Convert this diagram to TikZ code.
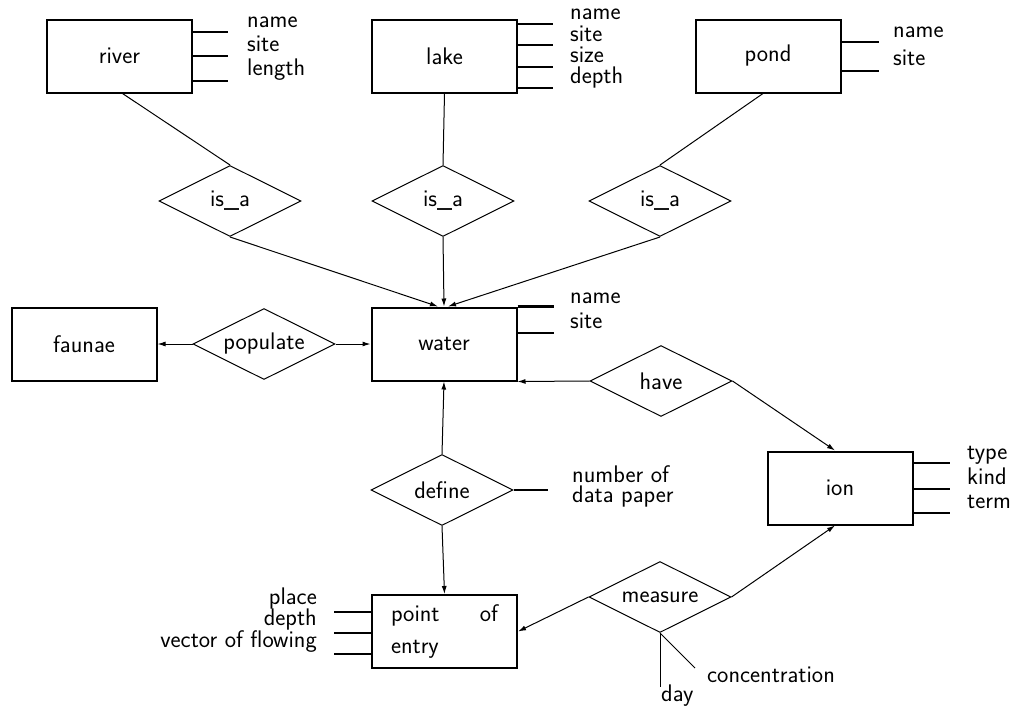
\documentclass[tikz,border=0pt]{standalone}
\usetikzlibrary{shapes.geometric,arrows.meta}
\begin{document}
\begin{tikzpicture}[x=1pt,y=-1pt,
  every node/.style={font=\sffamily\fontsize{24}{28}\selectfont},
  ent/.style={draw, line width=2pt, minimum width=145pt, minimum height=73pt, inner sep=0pt},
  rel/.style={draw, diamond, aspect=2, line width=1pt, minimum width=142pt, minimum height=71pt, inner sep=0pt},
  conn/.style={line width=1pt},
  arr/.style={conn, -{Latex[length=8pt,width=5pt]}},
  attr/.style={line width=2.5pt},
  attrthin/.style={line width=1.2pt},
  lbl/.style={inner sep=0pt, text height=0.62em, text depth=0.17em, anchor=west},
  lblr/.style={lbl, anchor=east}
]
\useasboundingbox (0,0) rectangle (1018,710);

% entities
\node[ent] (river) at (119.5,56) {river};
\node[ent] (lake) at (444.5,56) {lake};
\node[ent] (pond) at (768,56) {pond};
\node[ent] (water) at (444,344) {water};
\node[ent] (faunae) at (84,344) {faunae};
\node[ent] (ion) at (840,488) {ion};
\node[ent, text width=107pt, align=left, font=\sffamily\fontsize{24}{32}\selectfont] (poe) at (444.5,631.5) {point\hfill of\\entry};

% relationships
\node[rel] (isaL) at (230,201) {is\_a};
\node[rel] (isaM) at (443,201) {is\_a};
\node[rel] (isaR) at (660,201) {is\_a};
\node[rel] (populate) at (264,344) {populate};
\node[rel] (have) at (661,381) {have};
\node[rel] (define) at (442,490) {define};
\node[rel] (measure) at (660,597) {measure};

% connectors
\draw[conn] ([xshift=3pt]river.south) -- (isaL.north);
\draw[conn] (lake.south) -- (isaM.north);
\draw[conn] ([xshift=-5pt]pond.south) -- (isaR.north);
\draw[arr] (isaL.south) -- ([xshift=-6pt]water.north);
\draw[arr] (isaM.south) -- (water.north);
\draw[arr] (isaR.south) -- ([xshift=4pt]water.north);
\draw[arr] (populate.west) -- (faunae.east);
\draw[arr] (populate.east) -- (water.west);
\draw[arr] (have.west) -- (water.south east);
\draw[arr] (have.east) -- ([xshift=-5pt]ion.north);
\draw[arr] (define.north) -- (water.south);
\draw[arr] (define.south) -- (poe.north);
\draw[arr] (measure.west) -- (poe.east);
\draw[arr] (measure.east) -- ([xshift=-5pt]ion.south);

% attributes of river
\draw[attr] (river.east |- 0,32) -- ++(35,0);
\draw[attr] (river.east |- 0,56) -- ++(35,0);
\draw[attr] (river.east |- 0,81) -- ++(35,0);
\node[lbl] (rname) at (247,25) {name};
\node[lbl] (rsite) at (247,49) {site};
\node[lbl] (rlength) at (247,73) {length};

% attributes of lake
\draw[attr] (lake.east |- 0,24) -- ++(35,0);
\draw[attrthin] (lake.east |- 0,45) -- ++(35,0);
\draw[attr] (lake.east |- 0,67) -- ++(35,0);
\draw[attr] (lake.east |- 0,88) -- ++(35,0);
\node[lbl] (lname) at (570,17) {name};
\node[lbl] (lsite) at (570,39) {site};
\node[lbl] (lsize) at (570,60) {size};
\node[lbl] (ldepth) at (570,81) {depth};

% attributes of pond
\draw[attr] (pond.east |- 0,42) -- ++(37,0);
\draw[attr] (pond.east |- 0,71) -- ++(37,0);
\node[lbl] (pname) at (893,35) {name};
\node[lbl] (psite) at (893,63) {site};

% attributes of water
\draw[attr] (water.north east) -- ++(36,0);
\draw[attr] (water.east |- 0,333) -- ++(36,0);
\node[lbl] (wname) at (570,301) {name};
\node[lbl] (wsite) at (570,326) {site};

% attributes of ion
\draw[attr] (ion.east |- 0,463) -- ++(36,0);
\draw[attr] (ion.east |- 0,489) -- ++(36,0);
\draw[attr] (ion.east |- 0,513) -- ++(36,0);
\node[lbl] (itype) at (967,457) {type};
\node[lbl] (ikind) at (967,482) {kind};
\node[lbl] (iterm) at (967,506) {term};

% attribute of define
\coordinate (defend) at (548,490);
\draw[attr] (define.east) -- (defend);
\node[lbl] (dnum) at (572,480) {number of};
\node[lbl] (ddata) at (572,500) {data paper};

% attributes of point of entry
\draw[attrthin] (poe.west |- 0,612) -- ++(-37,0);
\draw[attr] (poe.west |- 0,633) -- ++(-37,0);
\draw[attr] (poe.west |- 0,654) -- ++(-37,0);
\node[lblr] (eplace) at (317,602) {place};
\node[lblr] (edepth) at (317,623) {depth};
\node[lblr] (evector) at (317,645) {vector of flowing};

% attributes of measure
\coordinate (dayend) at (660,687);
\coordinate (concend) at (695,668);
\draw[conn] (measure.south) -- (dayend);
\draw[conn] (measure.south) -- (concend);
\node[lbl] (mday) at (661,699) {day};
\node[lbl] (mconc) at (707,680) {concentration};
\end{tikzpicture}
\end{document}
